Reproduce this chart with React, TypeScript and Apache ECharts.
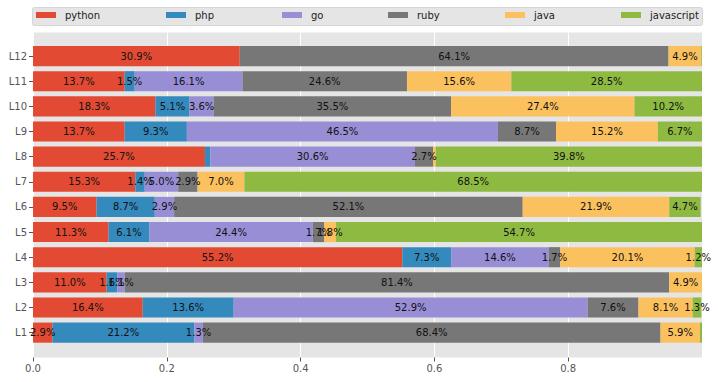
import React, { useEffect, useRef } from "react";
import * as echarts from "echarts";

const categories = ["L1", "L2", "L3", "L4", "L5", "L6", "L7", "L8", "L9", "L10", "L11", "L12"];
const seriesNames = ["python", "php", "go", "ruby", "java", "javascript"];
const colors = ["#E24A33", "#348ABD", "#988ED5", "#777777", "#FBC15E", "#8EBA42"];

// percentages per language, rows L1..L12
const python = [2.9, 16.4, 11.0, 55.2, 11.3, 9.5, 15.3, 25.7, 13.7, 18.3, 13.7, 30.9];
const php = [21.2, 13.6, 1.6, 7.3, 6.1, 8.7, 1.4, 0.8, 9.3, 5.1, 1.5, 0];
const go = [1.3, 52.9, 1.1, 14.6, 24.4, 2.9, 5.0, 30.6, 46.5, 3.6, 16.1, 0];
const ruby = [68.4, 7.6, 81.4, 1.7, 1.7, 52.1, 2.9, 2.7, 8.7, 35.5, 24.6, 64.1];
const java = [5.9, 8.1, 4.9, 20.1, 1.8, 21.9, 7.0, 0.4, 15.2, 27.4, 15.6, 4.9];
const javascript = [0.3, 1.3, 0, 1.2, 54.7, 4.7, 68.5, 39.8, 6.7, 10.2, 28.5, 0.1];

const allValues = [python, php, go, ruby, java, javascript];
const xTicks = [0, 0.2, 0.4, 0.6, 0.8];
const legendLefts = [36, 166, 282, 388, 505, 621];

const FONT = "DejaVu Sans";

export default function App() {
  const ref = useRef<HTMLDivElement>(null);
  useEffect(() => {
    if (!ref.current) return;
    const chart = echarts.init(ref.current, undefined, { renderer: "svg" });
    const series = seriesNames.map((name, i) => ({
      name,
      type: "bar",
      stack: "total",
      xAxisIndex: 1,
      yAxisIndex: 1,
      barWidth: "80%",
      itemStyle: { color: colors[i] },
      label: {
        show: true,
        position: "inside",
        color: "#111",
        fontFamily: FONT,
        fontSize: 10,
        formatter: (p: any) => (p.value * 100 >= 1 ? (p.value * 100).toFixed(1) + "%" : ""),
      },
      data: allValues[i].map((v) => v / 100),
    }));
    const legends = seriesNames.map((name, i) => ({
      left: legendLefts[i],
      top: 10,
      padding: 0,
      icon: "rect",
      itemWidth: 20,
      itemHeight: 6,
      data: [name],
      selectedMode: false,
      textStyle: { fontFamily: FONT, fontSize: 10, color: "#222", padding: [0, 0, 0, 4] },
    }));
    chart.setOption({
      animation: false,
      textStyle: { fontFamily: FONT },
      graphic: [
        {
          type: "rect",
          shape: { x: 32.5, y: 7.5, width: 670, height: 18, r: 2 },
          style: { fill: "#E5E5E5", stroke: "#D6D6D6", lineWidth: 1 },
          z: 0,
        },
      ],
      legend: legends,
      grid: [
        {
          left: 33,
          right: 16,
          top: 32.5,
          bottom: 24.5,
          show: true,
          backgroundColor: "#E5E5E5",
          borderWidth: 0,
        },
        {
          left: 33,
          right: 16,
          top: 43.5,
          bottom: 36.8,
        },
      ],
      xAxis: [
        {
          gridIndex: 0,
          type: "value",
          min: 0,
          max: 1,
          interval: 0.2,
          axisLine: { show: false },
          axisTick: { show: true, length: 4, lineStyle: { color: "#555" } },
          splitLine: { show: true, lineStyle: { color: "#FFFFFF", width: 1 } },
          axisLabel: {
            color: "#555",
            fontFamily: FONT,
            fontSize: 10,
            margin: 6,
            showMaxLabel: false,
            formatter: (v: number) => (xTicks.some((t) => Math.abs(t - v) < 1e-6) ? v.toFixed(1) : ""),
          },
        },
        {
          gridIndex: 1,
          type: "value",
          min: 0,
          max: 1,
          show: false,
          splitLine: { show: false },
        },
      ],
      yAxis: [
        {
          gridIndex: 0,
          type: "value",
          show: false,
          splitLine: { show: false },
        },
        {
          gridIndex: 1,
          type: "category",
          data: categories,
          axisLine: { show: false },
          axisTick: { show: true, alignWithLabel: true, length: 4, lineStyle: { color: "#555" } },
          axisLabel: { color: "#555", fontFamily: FONT, fontSize: 10, margin: 6 },
          splitLine: { show: false },
        },
      ],
      series,
    });
    return () => chart.dispose();
  }, []);
  return (
    <div
      ref={ref}
      style={{ position: "fixed", left: 0, top: 0, width: 718, height: 382, background: "#fff" }}
    />
  );
}
